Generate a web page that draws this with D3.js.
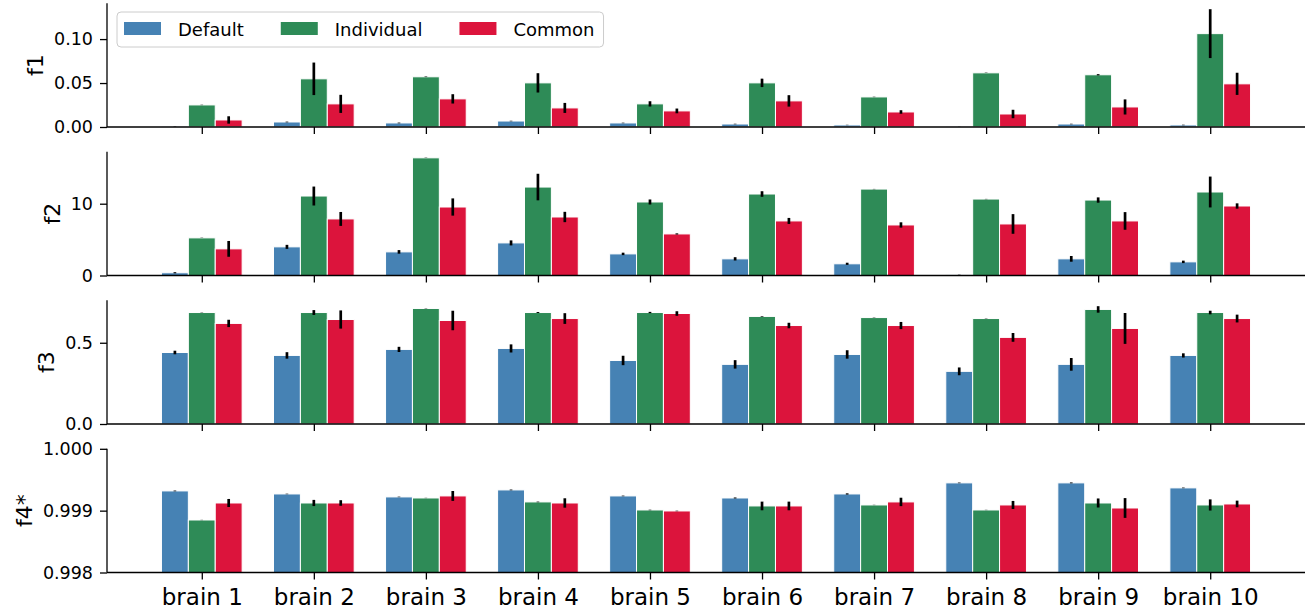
<!DOCTYPE html>
<html>
<head>
<meta charset="utf-8">
<script src="https://cdn.jsdelivr.net/npm/d3@7"></script>
<style>
  html, body { margin: 0; padding: 0; background: #fff; }
  svg { display: block; font-family: "DejaVu Sans", sans-serif; }
</style>
</head>
<body>
<svg id="chart" width="1310" height="613"></svg>
<script>
// ---------- data ----------
const categories = ["brain 1","brain 2","brain 3","brain 4","brain 5","brain 6","brain 7","brain 8","brain 9","brain 10"];
const seriesNames = ["Default","Individual","Common"];
const seriesColors = ["#4682b4","#2e8b57","#dc143c"];
const metricNames = ["f1","f2","f3","f4*"];

// f1
const f1Default    = [0.0003,0.0057,0.0046,0.0068,0.0046,0.0034,0.0023,0.0002,0.0034,0.0023];
const f1DefaultErr = [0.0002,0.0004,0.0004,0.0003,0.0003,0.0003,0.0002,0.0001,0.0003,0.0003];
const f1Individual    = [0.0251,0.0548,0.0571,0.0502,0.0263,0.0502,0.0342,0.0616,0.0594,0.1062];
const f1IndividualErr = [0.0002,0.0185,0.0003,0.0110,0.0030,0.0048,0.0002,0.0002,0.0007,0.0278];
const f1Common    = [0.0080,0.0263,0.0320,0.0217,0.0183,0.0297,0.0171,0.0148,0.0228,0.0491];
const f1CommonErr = [0.0042,0.0103,0.0053,0.0057,0.0027,0.0065,0.0020,0.0048,0.0086,0.0126];

// f2
const f2Default    = [0.38,3.99,3.29,4.54,3.01,2.32,1.63,0.08,2.32,1.90];
const f2DefaultErr = [0.08,0.28,0.25,0.35,0.17,0.23,0.15,0.03,0.40,0.17];
const f2Individual    = [5.24,11.07,16.39,12.32,10.24,11.35,12.04,10.65,10.51,11.63];
const f2IndividualErr = [0.02,1.32,0.02,1.85,0.35,0.39,0.02,0.02,0.37,2.15];
const f2Common    = [3.71,7.88,9.54,8.15,5.79,7.60,7.04,7.18,7.60,9.68];
const f2CommonErr = [1.10,0.97,1.20,0.72,0.08,0.42,0.37,1.37,1.23,0.37];

// f3
const f3Default    = [0.440,0.422,0.459,0.465,0.391,0.367,0.428,0.324,0.367,0.422];
const f3DefaultErr = [0.011,0.020,0.016,0.025,0.029,0.026,0.026,0.024,0.039,0.013];
const f3Individual    = [0.686,0.686,0.711,0.686,0.686,0.662,0.655,0.649,0.705,0.686];
const f3IndividualErr = [0.001,0.015,0.001,0.003,0.004,0.002,0.001,0.001,0.020,0.011];
const f3Common    = [0.619,0.643,0.637,0.649,0.680,0.606,0.606,0.533,0.588,0.649];
const f3CommonErr = [0.0225,0.056,0.060,0.033,0.014,0.017,0.022,0.027,0.095,0.024];

// f4*
const f4Default    = [0.999319,0.999270,0.999222,0.999335,0.999238,0.999205,0.999270,0.999449,0.999449,0.999368];
const f4DefaultErr = [0.000006,0.000004,0.000004,0.000006,0.000005,0.000008,0.000010,0.000005,0.000007,0.000005];
const f4Individual    = [0.998849,0.999124,0.999205,0.999141,0.999011,0.999076,0.999092,0.999011,0.999124,0.999092];
const f4IndividualErr = [0.000002,0.000050,0.000002,0.000005,0.000004,0.000070,0.000002,0.000002,0.000073,0.000090];
const f4Common    = [0.999124,0.999124,0.999238,0.999124,0.998995,0.999076,0.999141,0.999092,0.999043,0.999108];
const f4CommonErr = [0.000065,0.000045,0.000080,0.000076,0.000004,0.000070,0.000068,0.000065,0.000160,0.000054];

const yTicks = [[0,0.05,0.10],[0,10],[0,0.5],[0.998,0.999,1.000]];
const yFormats = [".2f","d",".1f",".3f"];
const yFixedDomain = [null,null,null,[0.998,1.000]];

const panels = [
  {vals:[f1Default,f1Individual,f1Common], errs:[f1DefaultErr,f1IndividualErr,f1CommonErr]},
  {vals:[f2Default,f2Individual,f2Common], errs:[f2DefaultErr,f2IndividualErr,f2CommonErr]},
  {vals:[f3Default,f3Individual,f3Common], errs:[f3DefaultErr,f3IndividualErr,f3CommonErr]},
  {vals:[f4Default,f4Individual,f4Common], errs:[f4DefaultErr,f4IndividualErr,f4CommonErr]},
];

// ---------- layout ----------
const svg = d3.select("#chart");
const plotLeft = 107, plotRight = 1305;
const panelTop0 = 3.3, panelStep = 148.5, panelH = 123.7;
const barW = 0.24;
const offsets = [-0.24, 0, 0.24];

const x = d3.scaleLinear().domain([-0.36 - 0.486, 9.36 + 0.486]).range([plotLeft, plotRight]);
const bw = x(barW) - x(0);

panels.forEach((p, pi) => {
  const top = panelTop0 + pi * panelStep;
  const bottom = top + panelH;
  let dom = yFixedDomain[pi];
  if (!dom) {
    const mx = d3.max(p.vals.flatMap((arr, si) => arr.map((v, i) => v + p.errs[si][i])));
    dom = [0, mx * 1.05];
  }
  const y = d3.scaleLinear().domain(dom).range([bottom, top]).clamp(true);
  const g = svg.append("g");

  // bars
  p.vals.forEach((arr, si) => {
    g.append("g").selectAll("rect").data(arr).join("rect")
      .attr("x", (d, i) => x(i + offsets[si]) - bw / 2)
      .attr("width", bw)
      .attr("y", d => y(d))
      .attr("height", d => y(dom[0]) - y(d))
      .attr("fill", seriesColors[si])
      .attr("stroke", "#fff")
      .attr("stroke-width", 1);
  });
  // error bars
  p.vals.forEach((arr, si) => {
    g.append("g").selectAll("line").data(arr).join("line")
      .attr("x1", (d, i) => x(i + offsets[si]))
      .attr("x2", (d, i) => x(i + offsets[si]))
      .attr("y1", (d, i) => y(d - p.errs[si][i]))
      .attr("y2", (d, i) => y(d + p.errs[si][i]))
      .attr("stroke", "#000")
      .attr("stroke-width", 2.7);
  });

  // y axis
  const fmt = d3.format(yFormats[pi]);
  const ya = g.append("g").attr("transform", `translate(${plotLeft},0)`)
    .call(d3.axisLeft(y).tickValues(yTicks[pi]).tickFormat(fmt).tickSize(7).tickPadding(7));
  ya.select(".domain").attr("stroke", "#000").attr("stroke-width", 1.3).attr("d", `M0,${bottom}V${top}`);
  ya.selectAll(".tick line").attr("stroke", "#000").attr("stroke-width", 1.3);
  ya.selectAll(".tick text").attr("font-size", 17.5).attr("font-family", "DejaVu Sans").attr("fill", "#000");

  // x axis
  const xa = g.append("g").attr("transform", `translate(0,${bottom})`)
    .call(d3.axisBottom(x).tickValues(d3.range(categories.length))
      .tickFormat(pi === 3 ? (i => categories[i]) : (() => "")).tickSize(7).tickPadding(9));
  xa.select(".domain").attr("stroke", "#000").attr("stroke-width", 1.3).attr("d", `M${plotLeft},0H${plotRight}`);
  xa.selectAll(".tick line").attr("stroke", "#000").attr("stroke-width", 1.3);
  xa.selectAll(".tick text").attr("font-size", 23).attr("font-family", "DejaVu Sans").attr("fill", "#000");

  // y label
  let maxW = 0;
  ya.selectAll(".tick text").each(function () { maxW = Math.max(maxW, this.getComputedTextLength()); });
  const labelX = plotLeft - 7 - 7 - maxW - 11;
  g.append("text")
    .attr("transform", `translate(${labelX},${(top + bottom) / 2}) rotate(-90)`)
    .attr("text-anchor", "middle")
    .attr("font-size", 22)
    .attr("fill", "#000")
    .text(metricNames[pi]);
});

// ---------- legend ----------
const leg = svg.append("g");
const legBox = leg.append("rect")
  .attr("x", 117).attr("y", 12).attr("height", 35).attr("rx", 4)
  .attr("fill", "#fff").attr("fill-opacity", 0.8)
  .attr("stroke", "#cccccc").attr("stroke-width", 1);
let lx = 124;
seriesNames.forEach((name, si) => {
  leg.append("rect").attr("x", lx).attr("y", 22).attr("width", 37).attr("height", 13)
    .attr("fill", seriesColors[si]);
  const t = leg.append("text").attr("x", lx + 54).attr("y", 29.5).attr("dy", "0.35em")
    .attr("font-size", 18).attr("fill", "#000").text(name);
  const w = t.node().getComputedTextLength();
  lx = lx + 54 + w + 37;
});
legBox.attr("width", lx - 37 + 9 - 117);
</script>
</body>
</html>
